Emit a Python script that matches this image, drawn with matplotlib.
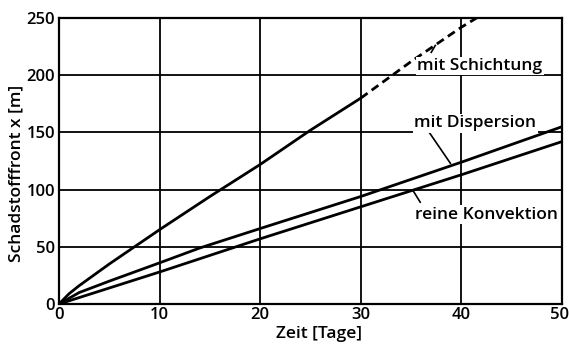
import matplotlib
matplotlib.use("Agg")
import matplotlib.pyplot as plt
import matplotlib.transforms as mtransforms

plt.rcParams['font.family'] = ['Open Sans', 'DejaVu Sans']
plt.rcParams['font.weight'] = 'semibold'
plt.rcParams['axes.labelweight'] = 'semibold'

# Data
schicht_x = [0, 1, 2, 5, 10, 15, 20, 25, 30]
schicht_y = [0, 9, 16, 35, 65, 94, 122, 152, 180]
schicht_dash_x = [30, 35, 40, 41.5]
schicht_dash_y = [180, 212, 242, 250]
disp_x = [0, 1, 2, 5, 10, 14, 20, 30, 40, 50]
disp_y = [0, 5, 10, 20, 36, 49, 66, 94, 124, 155]
konv_x = [0, 10, 20, 30, 40, 50]
konv_y = [0, 28, 57, 85, 113, 142]
xticks = [0, 10, 20, 30, 40, 50]
yticks = [0, 50, 100, 150, 200, 250]

FS = 12.5

fig = plt.figure(figsize=(5.69, 3.45), dpi=100)
ax = fig.add_axes([0.1037, 0.1188, 0.8841, 0.829])
ax.set_xlim(0, 50)
ax.set_ylim(0, 250)
ax.set_xticks(xticks)
ax.set_yticks(yticks)
ax.grid(True, color='black', linewidth=1.3)
ax.set_axisbelow(True)
for s in ax.spines.values():
    s.set_linewidth(1.6)
ax.tick_params(axis='x', length=0, labelsize=12, pad=2)
ax.tick_params(axis='y', length=0, labelsize=12, pad=3)

lw = 2.0
ax.plot(schicht_x, schicht_y, color='black', lw=lw, solid_capstyle='butt')
ax.plot(schicht_dash_x, schicht_dash_y, color='black', lw=lw, dashes=(3, 1.8))
ax.plot(disp_x, disp_y, color='black', lw=lw)
ax.plot(konv_x, konv_y, color='black', lw=lw)

bbox = dict(facecolor='white', edgecolor='none', pad=1)
ax.text(35.6, 208, 'mit Schichtung', fontsize=FS, va='center', ha='left', bbox=bbox)
ax.text(35.3, 158, 'mit Dispersion', fontsize=FS, va='center', ha='left', bbox=bbox)
ax.text(35.4, 78, 'reine Konvektion', fontsize=FS, va='center', ha='left', bbox=bbox)

# leader lines
ax.plot([37.0, 37.4], [220, 226], color='black', lw=1.2)
ax.plot([36.8, 38.9], [150, 123], color='black', lw=1.2)
ax.plot([35.9, 35.2], [89, 99], color='black', lw=1.2)

ax.set_xlabel('Zeit [Tage]', fontsize=FS)
ax.set_ylabel('Schadstofffront x [m]', fontsize=FS)
ax.xaxis.set_label_coords(0.516, -0.104)
ax.xaxis.label.set_va('center')
ax.yaxis.set_label_coords(-0.085, 0.458)
ax.yaxis.label.set_va('center')

fig.canvas.draw()
lbl = ax.get_xticklabels()[-1]
lbl.set_transform(lbl.get_transform() + mtransforms.ScaledTranslation(-3/100, 0, fig.dpi_scale_trans))

fig.savefig('out.png', dpi=100)
